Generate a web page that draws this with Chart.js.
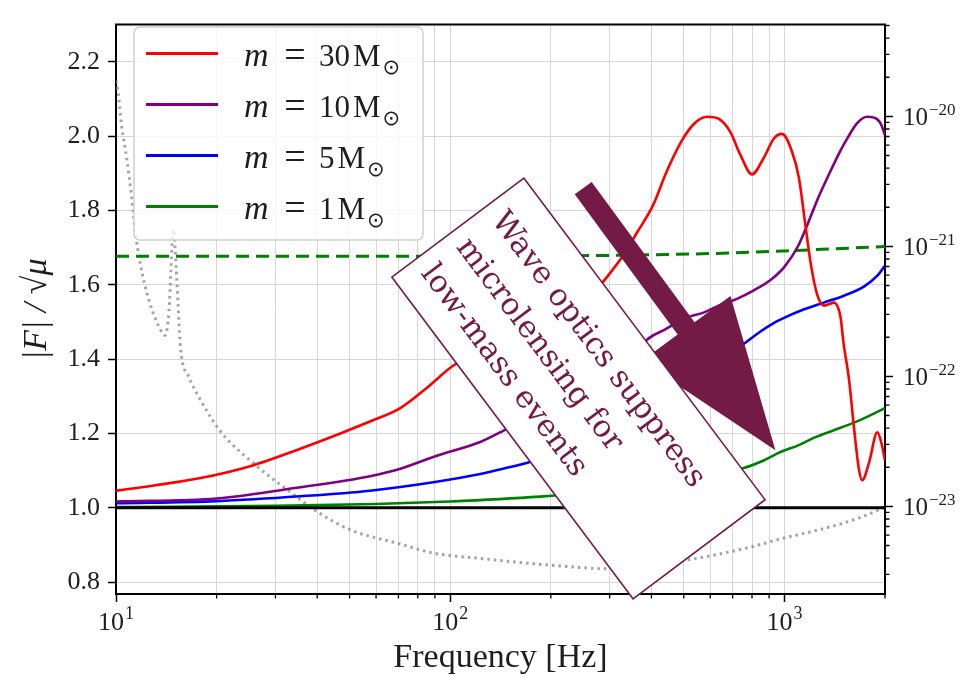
<!DOCTYPE html>
<html>
<head>
<meta charset="utf-8">
<script src="https://cdn.jsdelivr.net/npm/chart.js@4.4.1/dist/chart.umd.min.js"></script>
<style>
  html, body { margin: 0; padding: 0; background: #fff; }
  canvas { display: block; }
</style>
</head>
<body>
<canvas id="lensChart" width="965" height="678"></canvas>
<script>
// ── DATA ──
const massLabels = ['30', '10', '5', '1'];
const massColors = ['#ff0000', '#800080', '#0000ff', '#008000'];

// |F|/sqrt(mu) against frequency [Hz], one pair per lens mass
const freq30 = [10, 13, 17.9, 25.2, 35.6, 46.9, 57.5, 70.9, 85, 102, 130, 170, 220, 275, 300, 330, 362, 405, 445, 489, 535, 587, 640, 690, 738, 800, 867, 929, 984, 1054, 1105, 1157, 1197, 1253, 1312, 1360, 1406, 1472, 1503, 1560, 1615, 1672, 1710, 1790, 1897, 1950, 2000];
const amp30  = [1.046, 1.060, 1.080, 1.112, 1.159, 1.200, 1.232, 1.268, 1.322, 1.382, 1.430, 1.475, 1.525, 1.590, 1.630, 1.680, 1.740, 1.815, 1.906, 1.982, 2.032, 2.052, 2.045, 2.010, 1.950, 1.897, 1.941, 1.993, 2.006, 1.958, 1.888, 1.757, 1.661, 1.574, 1.544, 1.548, 1.552, 1.513, 1.443, 1.347, 1.216, 1.102, 1.074, 1.120, 1.203, 1.175, 1.128];

const freq10 = [10, 20, 35.6, 57.5, 70.9, 91.2, 123, 144, 180, 229, 290, 362, 388, 440, 512, 573, 640, 721, 810, 907, 1000, 1100, 1170, 1250, 1374, 1460, 1541, 1651, 1770, 1897, 1950, 2000];
const amp10  = [1.017, 1.025, 1.055, 1.085, 1.105, 1.140, 1.177, 1.207, 1.255, 1.312, 1.365, 1.417, 1.452, 1.480, 1.512, 1.525, 1.545, 1.562, 1.585, 1.612, 1.648, 1.705, 1.760, 1.825, 1.906, 1.955, 1.993, 2.035, 2.052, 2.045, 2.030, 2.002];

const freq5 = [10, 20, 35.6, 57.5, 91, 123, 144, 174, 230, 300, 400, 500, 600, 738, 850, 929, 1020, 1117, 1312, 1500, 1730, 1900, 2000];
const amp5  = [1.012, 1.018, 1.031, 1.046, 1.070, 1.091, 1.105, 1.124, 1.165, 1.215, 1.280, 1.335, 1.380, 1.434, 1.475, 1.497, 1.515, 1.530, 1.552, 1.570, 1.595, 1.625, 1.652];

const freq1 = [10, 30, 60, 100, 186, 300, 400, 500, 600, 755, 870, 973, 1100, 1224, 1400, 1615, 1800, 2000];
const amp1  = [1.002, 1.005, 1.010, 1.017, 1.030, 1.045, 1.060, 1.073, 1.088, 1.107, 1.128, 1.150, 1.168, 1.188, 1.208, 1.229, 1.248, 1.268];

// reference lines
const unityFreq = [10, 2000];
const unityAmp  = [1, 1];
const dashedFreq = [10, 100, 300, 600, 1000, 2000];
const dashedAmp  = [1.677, 1.677, 1.679, 1.684, 1.691, 1.703];

// detector noise (right axis)
const noiseFreq = [10, 10.16, 10.4, 10.77, 11.14, 11.4, 11.8, 12.49, 13.54, 14.02, 14.4, 14.85, 15.2, 15.6, 16.5, 17.8, 20.5, 25.8, 33.2, 39.9, 50.2, 70.9, 89.1, 123, 195, 301, 489, 773, 973, 1224, 1541, 1938, 2000];
const noiseAsd  = [1.88e-20, 1.49e-20, 8.41e-21, 4.73e-21, 2.38e-21, 1.34e-21, 7.53e-22, 4.01e-22, 2.32e-22, 2.07e-22, 3.16e-22, 1.34e-21, 5.62e-22, 1.66e-22, 1.0e-22, 6.76e-23, 3.80e-23, 2.14e-23, 1.29e-23, 9.12e-24, 6.61e-24, 5.13e-24, 4.37e-24, 3.98e-24, 3.55e-24, 3.31e-24, 3.80e-24, 4.79e-24, 5.62e-24, 6.46e-24, 7.59e-24, 9.55e-24, 1.0e-23];

// ticks / labels
const yTickValues = [0.8, 1.0, 1.2, 1.4, 1.6, 1.8, 2.0, 2.2];
const xTickExponents = { 1: '1', 2: '2', 3: '3' };
const noiseTickExponents = { '-20': '−20', '-21': '−21', '-22': '−22', '-23': '−23' };
const noteLines = ['Wave optics suppress', 'microlensing for', 'low-mass events'];

// annotation anchors, in data coords
const arrowFrom = { freq: 250, value: 1.86 };
const arrowTo   = { freq: 940, value: 1.155 };
const boxCenter = { freq: 242, value: 1.321 };

// ── HELPERS ──
const SERIF = "'Liberation Serif', 'DejaVu Serif', serif";
const NOTE_COLOR = '#731a47';
const TEXT_COLOR = '#1e1e1e';

const toPoints = (xs, ys) => xs.map((x, i) => ({ x, y: ys[i] }));

function isDecade(v) {
  const e = Math.log10(v);
  return Math.abs(e - Math.round(e)) < 1e-9;
}

function logTicks(min, max) {
  const ticks = [];
  for (let e = Math.floor(Math.log10(min)); e <= Math.ceil(Math.log10(max)); e++) {
    for (let k = 1; k <= 9; k++) {
      const v = k * Math.pow(10, e);
      if (v >= min * (1 - 1e-9) && v <= max * (1 + 1e-9)) ticks.push({ value: v });
    }
  }
  return ticks;
}

// "10" with a raised exponent
function drawPower(ctx, exp, x, baseY, align, baseSize, expSize, lift) {
  ctx.font = baseSize + 'px ' + SERIF;
  const wb = ctx.measureText('10').width;
  ctx.font = expSize + 'px ' + SERIF;
  const we = ctx.measureText(exp).width;
  const x0 = align === 'center' ? x - (wb + we + 1) / 2 : x;
  ctx.font = baseSize + 'px ' + SERIF;
  ctx.fillText('10', x0, baseY);
  ctx.font = expSize + 'px ' + SERIF;
  ctx.fillText(exp, x0 + wb + 1, baseY - lift);
}

// ── PLUGINS ──
const massLegend = {
  id: 'massLegend',
  afterDatasetsDraw(chart) {
    const { ctx } = chart;
    const bx = 134, by = 27, bw = 289, bh = 213, r = 6;
    ctx.save();
    ctx.beginPath();
    ctx.moveTo(bx + r, by);
    ctx.arcTo(bx + bw, by, bx + bw, by + bh, r);
    ctx.arcTo(bx + bw, by + bh, bx, by + bh, r);
    ctx.arcTo(bx, by + bh, bx, by, r);
    ctx.arcTo(bx, by, bx + bw, by, r);
    ctx.closePath();
    ctx.fillStyle = 'rgba(255,255,255,0.8)';
    ctx.fill();
    ctx.strokeStyle = '#d0d0d0';
    ctx.lineWidth = 1.5;
    ctx.stroke();

    massLabels.forEach((mass, i) => {
      const ds = chart.data.datasets[i];
      const cy = 53.5 + i * 51;
      ctx.strokeStyle = ds.borderColor;
      ctx.lineWidth = 2.8;
      ctx.beginPath();
      ctx.moveTo(146, cy);
      ctx.lineTo(218, cy);
      ctx.stroke();

      const base = cy + 12;
      ctx.fillStyle = TEXT_COLOR;
      ctx.textBaseline = 'alphabetic';
      ctx.textAlign = 'left';
      ctx.font = 'italic 34px ' + SERIF;
      ctx.fillText('m', 244, base);
      ctx.font = '38px ' + SERIF;
      ctx.textAlign = 'center';
      ctx.fillText('=', 295, base + 1);
      ctx.textAlign = 'left';
      ctx.font = '31px ' + SERIF;
      ctx.fillText(mass, 319, base);
      const mx = 319 + ctx.measureText(mass).width + 3;
      ctx.fillText('M', mx, base);
      const sx = mx + ctx.measureText('M').width + 2;
      ctx.font = "21px 'DejaVu Sans', sans-serif";
      ctx.fillText('⊙', sx, base + 8);
    });
    ctx.restore();
  }
};

const waveNote = {
  id: 'waveNote',
  afterDatasetsDraw(chart) {
    const { ctx, scales: { x, y } } = chart;
    ctx.save();

    // arrow
    const tx = x.getPixelForValue(arrowFrom.freq), ty = y.getPixelForValue(arrowFrom.value);
    const hx = x.getPixelForValue(arrowTo.freq),   hy = y.getPixelForValue(arrowTo.value);
    const len = Math.hypot(hx - tx, hy - ty);
    const ux = (hx - tx) / len, uy = (hy - ty) / len;
    const px = -uy, py = ux;
    const shaft = 10.5, head = 55, headLen = 151;
    const bxp = hx - ux * headLen, byp = hy - uy * headLen;
    ctx.beginPath();
    ctx.moveTo(tx + px * shaft, ty + py * shaft);
    ctx.lineTo(bxp + px * shaft, byp + py * shaft);
    ctx.lineTo(bxp + px * head, byp + py * head);
    ctx.lineTo(hx, hy);
    ctx.lineTo(bxp - px * head, byp - py * head);
    ctx.lineTo(bxp - px * shaft, byp - py * shaft);
    ctx.lineTo(tx - px * shaft, ty - py * shaft);
    ctx.closePath();
    ctx.fillStyle = NOTE_COLOR;
    ctx.fill();

    // rotated text box
    const cx = x.getPixelForValue(boxCenter.freq), cy = y.getPixelForValue(boxCenter.value);
    const w = 402, h = 165;
    ctx.translate(cx, cy);
    ctx.rotate(Math.atan2(0.8, 0.6));
    ctx.fillStyle = '#fff';
    ctx.fillRect(-w / 2, -h / 2, w, h);
    ctx.strokeStyle = NOTE_COLOR;
    ctx.lineWidth = 1.6;
    ctx.strokeRect(-w / 2, -h / 2, w, h);

    ctx.font = "100px 'DejaVu Serif', serif";
    const size = 336 / ctx.measureText(noteLines[0]).width * 100;
    ctx.font = size.toFixed(1) + "px 'DejaVu Serif', serif";
    ctx.fillStyle = NOTE_COLOR;
    ctx.textAlign = 'left';
    ctx.textBaseline = 'alphabetic';
    noteLines.forEach((line, i) => {
      ctx.fillText(line, -w / 2 + 14, -h / 2 + 52 + i * 44);
    });
    ctx.restore();
  }
};

const frameAndTicks = {
  id: 'frameAndTicks',
  afterDraw(chart) {
    const { ctx, chartArea: a, scales: { x, y2 } } = chart;
    ctx.save();
    ctx.strokeStyle = '#000';
    ctx.lineWidth = 2;
    ctx.beginPath();
    ctx.moveTo(a.left - 1, a.top);
    ctx.lineTo(a.right + 1, a.top);
    ctx.stroke();

    // short minor ticks
    ctx.lineWidth = 1.3;
    ctx.beginPath();
    x.ticks.forEach(t => {
      if (isDecade(t.value)) return;
      const px = x.getPixelForValue(t.value);
      ctx.moveTo(px, a.bottom);
      ctx.lineTo(px, a.bottom + 4.5);
    });
    y2.ticks.forEach(t => {
      if (isDecade(t.value)) return;
      const py = y2.getPixelForValue(t.value);
      ctx.moveTo(a.right, py);
      ctx.lineTo(a.right + 4.5, py);
    });
    ctx.stroke();

    // power-of-ten labels
    ctx.fillStyle = TEXT_COLOR;
    ctx.textBaseline = 'alphabetic';
    ctx.textAlign = 'left';
    x.ticks.forEach(t => {
      if (!isDecade(t.value)) return;
      const exp = xTickExponents[Math.round(Math.log10(t.value))];
      if (exp) drawPower(ctx, exp, x.getPixelForValue(t.value), a.bottom + 36, 'center', 26, 18, 11);
    });
    y2.ticks.forEach(t => {
      if (!isDecade(t.value)) return;
      const exp = noiseTickExponents[Math.round(Math.log10(t.value))];
      if (exp) drawPower(ctx, exp, a.right + 18, y2.getPixelForValue(t.value) + 8.5, 'left', 25, 17, 10);
    });
    ctx.restore();
  }
};

// ── CHART ──
const curveSets = [[freq30, amp30], [freq10, amp10], [freq5, amp5], [freq1, amp1]];

const lineBase = {
  pointRadius: 0,
  pointHoverRadius: 0,
  fill: false,
  cubicInterpolationMode: 'monotone'
};

const datasets = [
  ...curveSets.map(([f, a], i) => ({
    ...lineBase,
    label: `m = ${massLabels[i]} M⊙`,
    data: toPoints(f, a),
    borderColor: massColors[i],
    borderWidth: 2.6,
    yAxisID: 'y',
    order: i + 1
  })),
  {
    ...lineBase,
    label: 'unity',
    data: toPoints(unityFreq, unityAmp),
    borderColor: '#000',
    borderWidth: 3,
    yAxisID: 'y',
    order: 0
  },
  {
    ...lineBase,
    label: 'threshold',
    data: toPoints(dashedFreq, dashedAmp),
    borderColor: '#008000',
    borderWidth: 3,
    borderDash: [13, 7],
    yAxisID: 'y',
    order: 6
  },
  {
    ...lineBase,
    label: 'noise',
    data: toPoints(noiseFreq, noiseAsd),
    borderColor: 'rgba(140,140,140,0.8)',
    borderWidth: 3,
    borderDash: [2.5, 4],
    yAxisID: 'y2',
    order: 10
  }
];

const tickFont = { family: SERIF, size: 26 };
const gridColor = '#d6d6d6';

new Chart(document.getElementById('lensChart'), {
  type: 'line',
  data: { datasets },
  options: {
    responsive: false,
    animation: false,
    events: [],
    layout: { padding: { top: 9, left: 0, right: 0, bottom: 0 } },
    plugins: {
      legend: { display: false },
      tooltip: { enabled: false }
    },
    scales: {
      x: {
        type: 'logarithmic',
        position: 'bottom',
        min: 10,
        max: 2000,
        bounds: 'data',
        afterBuildTicks: s => { s.ticks = logTicks(s.min, s.max); },
        afterFit: s => { s.height = 84; },
        ticks: {
          autoSkip: false,
          maxRotation: 0,
          padding: 4,
          color: TEXT_COLOR,
          font: tickFont,
          callback: () => ''
        },
        grid: {
          color: gridColor,
          lineWidth: 1,
          tickLength: 8,
          tickWidth: 1.5,
          tickColor: c => (c.tick && isDecade(c.tick.value)) ? '#000' : 'rgba(0,0,0,0)'
        },
        border: { display: true, color: '#000', width: 2 },
        title: {
          display: true,
          text: 'Frequency [Hz]',
          color: TEXT_COLOR,
          font: { family: SERIF, size: 34 },
          padding: { top: 0, bottom: 0 }
        }
      },
      y: {
        type: 'linear',
        position: 'left',
        min: 0.768,
        max: 2.3,
        bounds: 'data',
        afterBuildTicks: s => { s.ticks = yTickValues.map(v => ({ value: v })); },
        afterFit: s => { s.width = 116; },
        ticks: {
          padding: 8,
          color: TEXT_COLOR,
          font: tickFont,
          callback: v => Number(v).toFixed(1)
        },
        grid: {
          color: gridColor,
          lineWidth: 1,
          tickLength: 8,
          tickWidth: 1.5,
          tickColor: '#000'
        },
        border: { display: true, color: '#000', width: 2 },
        title: {
          display: true,
          text: '|F| / √μ',
          color: TEXT_COLOR,
          font: { family: SERIF, size: 34, style: 'italic' },
          padding: { top: 17, bottom: 0 }
        }
      },
      y2: {
        type: 'logarithmic',
        position: 'right',
        min: Math.pow(10, -23.674),
        max: Math.pow(10, -19.294),
        bounds: 'data',
        afterBuildTicks: s => { s.ticks = logTicks(s.min, s.max); },
        afterFit: s => { s.width = 80; },
        ticks: {
          autoSkip: false,
          padding: 9,
          color: TEXT_COLOR,
          font: tickFont,
          callback: () => ''
        },
        grid: {
          drawOnChartArea: false,
          tickLength: 8,
          tickWidth: 1.5,
          tickColor: c => (c.tick && isDecade(c.tick.value)) ? '#000' : 'rgba(0,0,0,0)'
        },
        border: { display: true, color: '#000', width: 2 }
      }
    }
  },
  plugins: [massLegend, waveNote, frameAndTicks]
});
</script>
</body>
</html>
